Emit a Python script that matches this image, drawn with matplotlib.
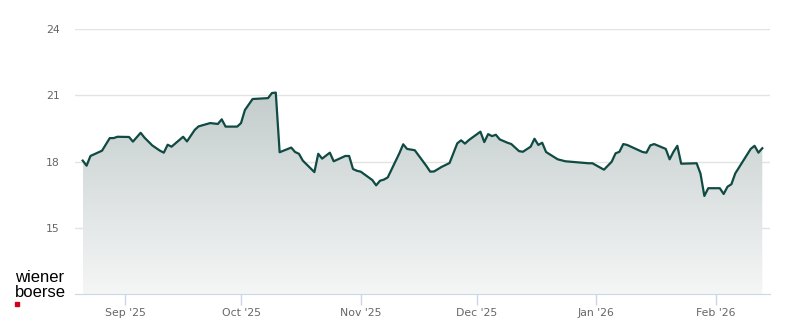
import matplotlib
matplotlib.use("Agg")
import matplotlib.pyplot as plt
import matplotlib.dates as mdates
from matplotlib.colors import LinearSegmentedColormap
from matplotlib.patches import Polygon, Rectangle
import numpy as np
import pandas as pd

dates = [
    "2025-08-21", "2025-08-22", "2025-08-23", "2025-08-26", "2025-08-28", "2025-08-29", "2025-08-30",
    "2025-09-02", "2025-09-03", "2025-09-05", "2025-09-06", "2025-09-08", "2025-09-10", "2025-09-11",
    "2025-09-12", "2025-09-13", "2025-09-16", "2025-09-17", "2025-09-19", "2025-09-20", "2025-09-23",
    "2025-09-25", "2025-09-26", "2025-09-27", "2025-09-30", "2025-10-01", "2025-10-02", "2025-10-04",
    "2025-10-08", "2025-10-09", "2025-10-10", "2025-10-11", "2025-10-14", "2025-10-15", "2025-10-16",
    "2025-10-17", "2025-10-20", "2025-10-21", "2025-10-22", "2025-10-24", "2025-10-25", "2025-10-28",
    "2025-10-29", "2025-10-30", "2025-10-31", "2025-11-01", "2025-11-04", "2025-11-05", "2025-11-06",
    "2025-11-07", "2025-11-08", "2025-11-11", "2025-11-12", "2025-11-13", "2025-11-15", "2025-11-18",
    "2025-11-19", "2025-11-20", "2025-11-22", "2025-11-24", "2025-11-26", "2025-11-27", "2025-11-28",
    "2025-11-29", "2025-12-02", "2025-12-03", "2025-12-04", "2025-12-05", "2025-12-06", "2025-12-07",
    "2025-12-09", "2025-12-10", "2025-12-12", "2025-12-13", "2025-12-15", "2025-12-16", "2025-12-17",
    "2025-12-18", "2025-12-19", "2025-12-22", "2025-12-24", "2025-12-30", "2025-12-31", "2026-01-03",
    "2026-01-05", "2026-01-06", "2026-01-07", "2026-01-08", "2026-01-09", "2026-01-13", "2026-01-14",
    "2026-01-15", "2026-01-16", "2026-01-19", "2026-01-20", "2026-01-21", "2026-01-22", "2026-01-23",
    "2026-01-27", "2026-01-28", "2026-01-29", "2026-01-30", "2026-02-02", "2026-02-03", "2026-02-04",
    "2026-02-05", "2026-02-06", "2026-02-10", "2026-02-11", "2026-02-12", "2026-02-13",
]
prices = [
    18.04, 17.81, 18.25, 18.49, 19.06, 19.06, 19.12,
    19.11, 18.90, 19.30, 19.08, 18.73, 18.49, 18.40,
    18.76, 18.67, 19.12, 18.91, 19.43, 19.59, 19.74,
    19.70, 19.91, 19.58, 19.58, 19.74, 20.33, 20.83,
    20.87, 21.10, 21.12, 18.42, 18.63, 18.43, 18.35,
    18.04, 17.52, 18.35, 18.13, 18.40, 18.01, 18.25,
    18.25, 17.66, 17.58, 17.54, 17.16, 16.92, 17.13,
    17.18, 17.28, 18.37, 18.78, 18.57, 18.51, 17.80,
    17.54, 17.55, 17.76, 17.93, 18.82, 18.96, 18.81,
    18.97, 19.35, 18.88, 19.24, 19.15, 19.21, 19.00,
    18.85, 18.79, 18.47, 18.44, 18.67, 19.03, 18.75,
    18.85, 18.43, 18.10, 18.01, 17.92, 17.92, 17.63,
    17.99, 18.37, 18.44, 18.79, 18.75, 18.43, 18.40,
    18.73, 18.79, 18.57, 18.10, 18.44, 18.71, 17.90,
    17.92, 17.45, 16.44, 16.79, 16.79, 16.53, 16.86,
    16.97, 17.46, 18.57, 18.71, 18.40, 18.60,
]
y_ticks = [15, 18, 21, 24]
month_ticks = ["2025-09-01", "2025-10-01", "2025-11-01", "2025-12-01", "2026-01-01", "2026-02-01"]
month_labels = ["Sep '25", "Oct '25", "Nov '25", "Dec '25", "Jan '26", "Feb '26"]

x = mdates.date2num(pd.to_datetime(dates))
y = np.array(prices)

fig = plt.figure(figsize=(8, 3.24), dpi=100)
ax = fig.add_axes([75 / 800, 1 - 294 / 324, 695 / 800, 265 / 324])
ymin, ymax = 12, 24
xlo = mdates.date2num(pd.Timestamp("2025-08-19"))
xhi = mdates.date2num(pd.Timestamp("2026-02-15"))
ax.set_xlim(xlo, xhi)
ax.set_ylim(ymin, ymax)

# gradient fill
cmap = LinearSegmentedColormap.from_list("g", ["#f5f6f6", "#c3cdcc"])
grad = np.linspace(0, 1, 256).reshape(-1, 1)
top = y.max()
im = ax.imshow(grad, extent=[x[0], x[-1], ymin, top], origin="lower", cmap=cmap,
               aspect="auto", zorder=1)
verts = np.column_stack([np.r_[x[0], x, x[-1]], np.r_[ymin, y, ymin]])
poly = Polygon(verts, closed=True, facecolor="none", edgecolor="none")
ax.add_patch(poly)
im.set_clip_path(poly)

ax.plot(x, y, color="#0f4a43", lw=1.6, zorder=3, solid_joinstyle="round")

ax.set_yticks(y_ticks)
ax.yaxis.grid(True, color="#e3e3e3", lw=1)
ax.set_axisbelow(True)
ax.set_xticks(mdates.date2num(pd.to_datetime(month_ticks)))
ax.set_xticklabels(month_labels)
for s in ["top", "right", "left"]:
    ax.spines[s].set_visible(False)
ax.spines["bottom"].set_color("#ccd6eb")
ax.spines["bottom"].set_zorder(4)
ax.tick_params(axis="x", colors="#ccd6eb", length=8, width=1, labelcolor="#666666",
               labelsize=7.8, pad=2)
ax.tick_params(axis="y", length=0, labelcolor="#666666", labelsize=7.8, pad=11)

fig.text(15 / 800, 1 - 277 / 324, "wiener", fontsize=12, family="Liberation Sans",
         color="#000000", va="center", ha="left")
fig.text(15 / 800, 1 - 292.5 / 324, "boerse", fontsize=12, family="Liberation Sans",
         color="#000000", va="center", ha="left")
fig.patches.append(Rectangle((15 / 800, 1 - 306 / 324), 4 / 800, 4 / 324,
                             transform=fig.transFigure, color="#d0021b"))

fig.savefig("out.png", dpi=100)
